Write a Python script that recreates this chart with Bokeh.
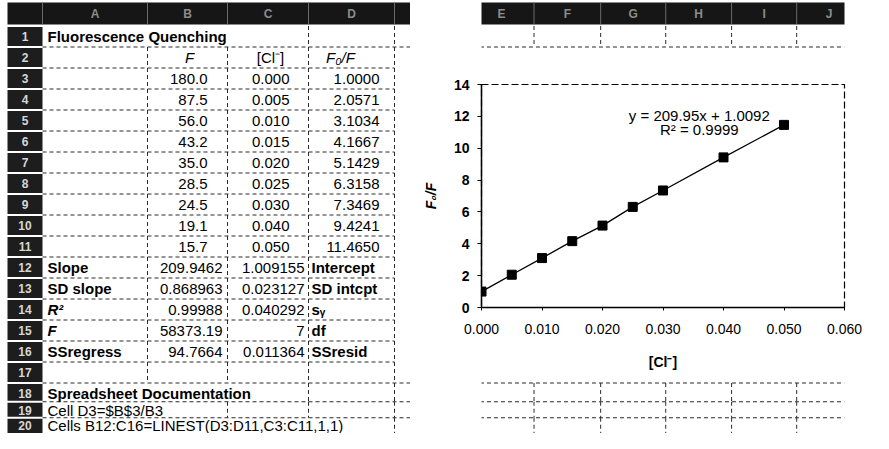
from bokeh.plotting import figure
from bokeh.models import Range1d, Label, FixedTicker, NumeralTickFormatter
from bokeh.layouts import row, column
from bokeh.core.properties import value
from bokeh.embed import file_html
from bokeh.resources import INLINE

FONT = "Liberation Sans"

# ---------------- data ----------------
title_text = "Fluorescence Quenching"
col_headers = ["F", "[Cl⁻]", "F₀/F"]
col_header_styles = ["italic", "normal", "italic"]
F_vals = [180.0, 87.5, 56.0, 43.2, 35.0, 28.5, 24.5, 19.1, 15.7]
cl_vals = [0.000, 0.005, 0.010, 0.015, 0.020, 0.025, 0.030, 0.040, 0.050]
f0f_vals = [1.0000, 2.0571, 3.1034, 4.1667, 5.1429, 6.3158, 7.3469, 9.4241, 11.4650]
stat_labels_left = ["Slope", "SD slope", "R²", "F", "SSregress"]
stat_left_styles = ["bold", "bold", "bold italic", "bold italic", "bold"]
stat_col_b = ["209.9462", "0.868963", "0.99988", "58373.19", "94.7664"]
stat_col_c = ["1.009155", "0.023127", "0.040292", "7", "0.011364"]
stat_labels_right = ["Intercept", "SD intcpt", "sᵧ", "df", "SSresid"]
doc_heading = "Spreadsheet Documentation"
doc_lines = ["Cell D3=$B$3/B3", "Cells B12:C16=LINEST(D3:D11,C3:C11,1,1)"]
col_letters = ["A", "B", "C", "D", "E", "F", "G", "H", "I", "J"]
row_numbers = list(range(1, 21))
x_ticks = [0.000, 0.010, 0.020, 0.030, 0.040, 0.050, 0.060]
y_ticks = [0, 2, 4, 6, 8, 10, 12, 14]
eq_text = "y = 209.95x + 1.0092"
r2_text = "R² = 0.9999"

# ---------------- geometry (page pixels) ----------------
TOTAL_W, TOTAL_H = 873, 433
LEFT_W = 410
HDR_TOP, HDR_BOT = 2, 24
RN_L, RN_R = 7, 42
COL_EDGES = [42, 147, 227, 308, 394, 477, 562, 645, 729, 812, 895]
TABLE_RIGHT = 394
OVERFLOW = {1: 240, 18: 255, 19: 165, 20: 350}

# row centres: regular 21 px rows, last two rows squeezed to fit the page
ROW_CENTERS = {r: 15 + 21 * r for r in range(1, 19)}
ROW_CENTERS[19] = 409.5
ROW_CENTERS[20] = 425.0


def row_y(r):
    return ROW_CENTERS[r]


def row_top(r):
    return HDR_BOT + 1.5 if r == 1 else (ROW_CENTERS[r - 1] + ROW_CENTERS[r]) / 2


def row_bot(r):
    return TOTAL_H + 20 if r == 20 else (ROW_CENTERS[r] + ROW_CENTERS[r + 1]) / 2


def strip(x0, x1, y0, y1):
    p = figure(width=x1 - x0, height=y1 - y0, x_range=Range1d(x0, x1),
               y_range=Range1d(y1, y0), x_axis_type=None, y_axis_type=None,
               output_backend="svg", toolbar_location=None, title=None,
               min_border=0, outline_line_color=None)
    p.background_fill_color = "white"
    p.border_fill_color = "white"
    return p, (x0, x1, y0, y1)


def txt(p, ext, xs, ys, texts, align="left", style="normal", size="15px", color="black"):
    x0, x1, y0, y1 = ext
    keep = [(x, y, t) for x, y, t in zip(xs, ys, texts)
            if x0 <= x <= x1 - 4 and y0 + 4 <= y <= y1 - 4]
    if not keep:
        return
    p.text(x=[k[0] for k in keep], y=[k[1] for k in keep], text=[k[2] for k in keep],
           text_font=value(FONT), text_font_size=size, text_font_style=style,
           text_align=align, text_baseline="middle", text_color=color)


def draw_sheet(p, ext):
    # column header bar
    p.quad(left=RN_L, right=TOTAL_W + 30, top=HDR_TOP, bottom=HDR_BOT,
           fill_color="#161616", line_color=None)
    n = len(COL_EDGES)
    p.segment(x0=COL_EDGES, y0=[HDR_TOP] * n, x1=COL_EDGES, y1=[HDR_BOT] * n,
              line_color="#6a6a6a", line_width=1)
    mids = [(COL_EDGES[i] + COL_EDGES[i + 1]) / 2 for i in range(len(col_letters))]
    txt(p, ext, mids, [(HDR_TOP + HDR_BOT) / 2] * len(mids), col_letters, align="center",
        style="bold", size="12px", color="#8c8c8c")
    # row number boxes
    p.quad(left=RN_L, right=RN_R, top=[row_top(r) + 1 for r in row_numbers],
           bottom=[row_bot(r) - 1 for r in row_numbers], fill_color="#1d1d1d",
           line_color=None)
    txt(p, ext, [(RN_L + RN_R) / 2] * len(row_numbers), [row_y(r) for r in row_numbers],
        [str(r) for r in row_numbers], align="center", style="bold", size="12px",
        color="#d6d6d6")
    # gridlines
    x0, y0, x1, y1 = [], [], [], []
    for b in range(1, 20):
        y = row_bot(b)
        right = TOTAL_W if (b == 1 or b >= 17) else TABLE_RIGHT
        x0.append(RN_R); x1.append(right); y0.append(y); y1.append(y)
    for r in row_numbers:
        for e in COL_EDGES[1:]:
            if 2 <= r <= 17 and e > TABLE_RIGHT:
                continue
            if r in OVERFLOW and e < OVERFLOW[r]:
                continue
            x0.append(e); x1.append(e); y0.append(row_top(r)); y1.append(row_bot(r))
    p.segment(x0=x0, y0=y0, x1=x1, y1=y1, line_color="#2a2a2a", line_width=1,
              line_dash="4 3")

    # texts
    A_LEFT, D_LEFT = 47, 311
    txt(p, ext, [A_LEFT], [row_y(1)], [title_text], style="bold")
    for hx, h, st in zip([189, 270, 340], col_headers, col_header_styles):
        txt(p, ext, [hx], [row_y(2)], [h], align="center", style=st)
    data_rows = [row_y(3 + i) for i in range(len(F_vals))]
    txt(p, ext, [207] * len(F_vals), data_rows, [f"{v:.1f}" for v in F_vals], align="right")
    txt(p, ext, [289] * len(cl_vals), data_rows, [f"{v:.3f}" for v in cl_vals], align="right")
    txt(p, ext, [379] * len(f0f_vals), data_rows, [f"{v:.4f}" for v in f0f_vals], align="right")
    stat_rows = [row_y(12 + i) for i in range(5)]
    for lbl, st, yy in zip(stat_labels_left, stat_left_styles, stat_rows):
        txt(p, ext, [A_LEFT], [yy], [lbl], style=st)
    txt(p, ext, [222] * 5, stat_rows, stat_col_b, align="right")
    txt(p, ext, [304] * 5, stat_rows, stat_col_c, align="right")
    txt(p, ext, [D_LEFT] * 5, stat_rows, stat_labels_right, style="bold")
    txt(p, ext, [A_LEFT], [row_y(18)], [doc_heading], style="bold")
    txt(p, ext, [A_LEFT] * 2, [row_y(19), row_y(20)], doc_lines)


# ---------------- left: worksheet ----------------
left, left_ext = strip(0, LEFT_W, 0, TOTAL_H)
draw_sheet(left, left_ext)

# ---------------- right top / bottom strips ----------------
RT_H, CH_H = 70, 310
rt, rt_ext = strip(LEFT_W, TOTAL_W, 0, RT_H)
draw_sheet(rt, rt_ext)
rb, rb_ext = strip(LEFT_W, TOTAL_W, RT_H + CH_H, TOTAL_H)
draw_sheet(rb, rb_ext)

# ---------------- chart ----------------
FRAME_L, FRAME_R, FRAME_T, FRAME_B = 481, 844, 84, 307
chart = figure(width=TOTAL_W - LEFT_W, height=CH_H,
               x_range=Range1d(0, 0.06), y_range=Range1d(0, 14),
               output_backend="svg", toolbar_location=None, title=None,
               min_border_left=FRAME_L - LEFT_W, min_border_right=TOTAL_W - FRAME_R,
               min_border_top=FRAME_T - RT_H, min_border_bottom=RT_H + CH_H - FRAME_B)
chart.background_fill_color = "white"
chart.border_fill_color = "white"
chart.xgrid.visible = False
chart.ygrid.visible = False
chart.outline_line_color = "black"
chart.outline_line_width = 1.2
chart.outline_line_dash = "7 3"

chart.line(cl_vals, f0f_vals, line_color="black", line_width=1.3)
chart.scatter(cl_vals, f0f_vals, marker="square", size=9, fill_color="black",
              line_color="black")

xa = chart.xaxis[0]
xa.ticker = FixedTicker(ticks=x_ticks)
xa.formatter = NumeralTickFormatter(format="0.000")
xa.axis_label = "[Cl⁻]"
ya = chart.yaxis[0]
ya.ticker = FixedTicker(ticks=y_ticks)
ya.axis_label = "F₀/F"
for ax in (xa, ya):
    ax.axis_line_color = "black"
    ax.axis_line_width = 1.5
    ax.major_tick_line_color = "black"
    ax.major_tick_in = 0
    ax.minor_tick_line_color = None
    ax.major_label_text_font = FONT
    ax.major_label_text_font_size = "14px"
    ax.major_label_text_color = "black"
    ax.axis_label_text_font = FONT
    ax.axis_label_text_font_size = "14px"
    ax.axis_label_text_color = "black"
xa.major_tick_out = 3
xa.major_label_standoff = 13
xa.axis_label_standoff = 17
xa.axis_label_text_font_style = "bold"
ya.major_tick_out = 4
ya.major_label_standoff = 8
ya.major_label_text_font_style = "bold"
ya.axis_label_standoff = 12
ya.axis_label_text_font_style = "bold italic"

chart.add_layout(Label(x=0.036, y=12.05, text=eq_text, text_align="center",
                       text_baseline="middle", text_font=FONT,
                       text_font_size="15px", text_color="black"))
chart.add_layout(Label(x=0.036, y=11.2, text=r2_text, text_align="center",
                       text_baseline="middle", text_font=FONT,
                       text_font_size="15px", text_color="black"))

layout = row(left, column(rt, chart, rb, spacing=0), spacing=0)
open("out.html", "w").write(file_html(layout, INLINE))
